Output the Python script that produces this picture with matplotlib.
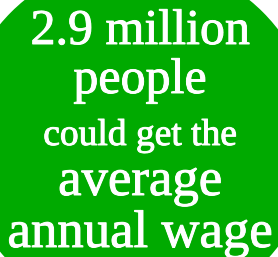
import matplotlib
matplotlib.use("Agg")
import matplotlib.pyplot as plt
import matplotlib.patheffects as pe
from matplotlib.patches import Circle

# text lines, baseline y (pixels from top) and font size
lines = ["2.9 million", "people", "could get the", "average", "annual wage"]
baselines = [44, 93, 145, 195, 247]
sizes = [36, 36, 27, 38, 38]

green = "#00aa00"

fig = plt.figure(figsize=(2.78, 2.57), dpi=100)
ax = fig.add_axes([0, 0, 1, 1])
ax.set_xlim(0, 278)
ax.set_ylim(257, 0)
ax.axis("off")

ax.add_patch(Circle((137, 138), 178, color=green, lw=0))

for txt, yb, fs in zip(lines, baselines, sizes):
    ax.text(140, yb, txt, ha="center", va="baseline", color="white",
            fontsize=fs, family="Liberation Serif",
            path_effects=[pe.withStroke(linewidth=0.7, foreground="white")])

fig.savefig("out.png", dpi=100)
